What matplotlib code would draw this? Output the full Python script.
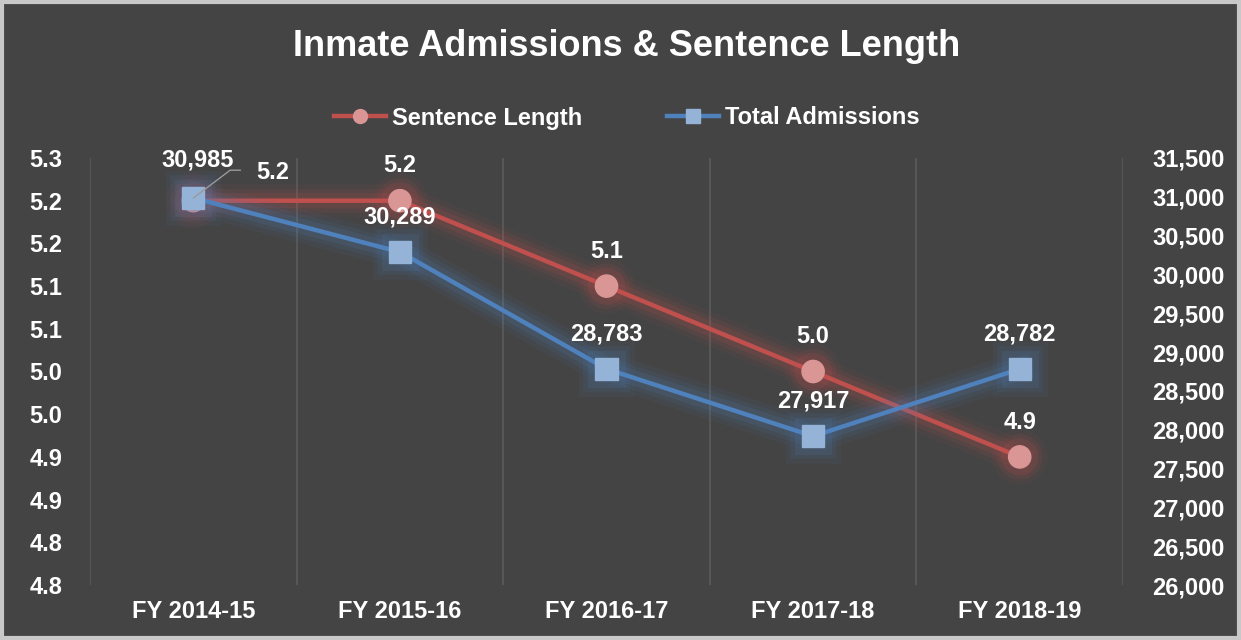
import matplotlib
matplotlib.use("Agg")
import matplotlib.pyplot as plt
import matplotlib.patheffects as pe
from matplotlib.patches import Rectangle
from matplotlib.lines import Line2D
from matplotlib.ticker import FuncFormatter

plt.rcParams["font.family"] = ["Liberation Sans", "DejaVu Sans"]
plt.rcParams["font.weight"] = "bold"

years = ["FY 2014-15", "FY 2015-16", "FY 2016-17", "FY 2017-18", "FY 2018-19"]
sentence = [5.2, 5.2, 5.1, 5.0, 4.9]
admissions = [30985, 30289, 28783, 27917, 28782]
left_ticks = [4.75, 4.80, 4.85, 4.90, 4.95, 5.00, 5.05, 5.10, 5.15, 5.20, 5.25]
left_labels = ["4.8", "4.8", "4.9", "4.9", "5.0", "5.0", "5.1", "5.1", "5.2", "5.2", "5.3"]
right_ticks = [26000, 26500, 27000, 27500, 28000, 28500, 29000, 29500, 30000, 30500, 31000, 31500]

BG = "#444444"
RED, RED_FILL = "#C0504D", "#DA9694"
BLUE, BLUE_FILL = "#4F81BD", "#95B3D7"
GRID = "#5c5c5c"
FS = 17


def glow(color):
    return [pe.Stroke(linewidth=24, foreground=color, alpha=0.06),
            pe.Stroke(linewidth=17, foreground=color, alpha=0.09),
            pe.Stroke(linewidth=11, foreground=color, alpha=0.14),
            pe.Normal()]


fig = plt.figure(figsize=(12.41, 6.4), dpi=100, facecolor=BG)
fig.patches.append(Rectangle((0.002, 0.003), 0.996, 0.994, transform=fig.transFigure,
                             fill=False, edgecolor="#c8c8c8", lw=3))
ax = fig.add_axes([90 / 1241, 55 / 640, 1033 / 1241, 427 / 640], facecolor=BG)
ax2 = ax.twinx()
x = list(range(len(years)))

ax.plot(x, sentence, color=RED, lw=3.2, marker="o", ms=16, mfc=RED_FILL, mec=RED_FILL,
        path_effects=glow(RED), zorder=3)
ax2.plot(x, admissions, color=BLUE, lw=3.2, marker="s", ms=16, mfc=BLUE_FILL, mec=BLUE_FILL,
         path_effects=glow(BLUE), zorder=3)

ax.set_xlim(-0.5, len(years) - 0.5)
ax.set_ylim(4.75, 5.25)
ax2.set_ylim(26000, 31500)
ax.set_yticks(left_ticks)
ax.set_yticklabels(left_labels)
ax2.set_yticks(right_ticks)
ax2.yaxis.set_major_formatter(FuncFormatter(lambda v, _: f"{v:,.0f}"))
ax.set_xticks(x)
ax.set_xticklabels(years)
for a in (ax, ax2):
    a.tick_params(length=0, labelsize=FS, colors="white")
    for s in a.spines.values():
        s.set_visible(False)
ax.tick_params(axis="y", pad=20)
ax2.tick_params(axis="y", pad=21)
ax.tick_params(axis="x", pad=11)
for b in [i - 0.5 for i in range(len(years) + 1)]:
    ax.axvline(b, color=GRID, lw=1.2, zorder=0)

lbl = dict(color="white", fontsize=FS, fontweight="bold", ha="center", va="center")
for i, v in enumerate(sentence):
    off = (57, 20) if i == 0 else (0, 25)
    ax.annotate(f"{v:.1f}", (i, v), xytext=off, textcoords="offset points", **lbl)
for i, v in enumerate(admissions):
    off = (3, 27) if i == 0 else (0, 25)
    ax2.annotate(f"{v:,}", (i, v), xytext=off, textcoords="offset points", zorder=5, **lbl)

# leader line for the first admissions label
ax2.annotate("", xy=(0, admissions[0]), xytext=(34, 20), textcoords="offset points",
             arrowprops=dict(arrowstyle="-", color="#9a9a9a", lw=1, shrinkA=0, shrinkB=0,
                             connectionstyle="angle,angleA=0,angleB=37,rad=0"), zorder=4)

fig.text(0.505, 1 - 47 / 640, "Inmate Admissions & Sentence Length", color="white", fontsize=26,
         fontweight="bold", ha="center", va="center")
handles = [Line2D([], [], color=RED, lw=3.2, marker="o", ms=10, mfc=RED_FILL, mec=RED_FILL),
           Line2D([], [], color=BLUE, lw=3.2, marker="s", ms=10, mfc=BLUE_FILL, mec=BLUE_FILL)]
fig.legend(handles, ["Sentence Length", "Total Admissions"], loc="center",
           bbox_to_anchor=(0.505, 1 - 118 / 640), ncol=2, frameon=False, labelcolor="white",
           handlelength=2.2, handletextpad=0.25, columnspacing=3.6,
           prop={"weight": "bold", "size": FS})

fig.savefig("out.png", dpi=100, facecolor=BG)
